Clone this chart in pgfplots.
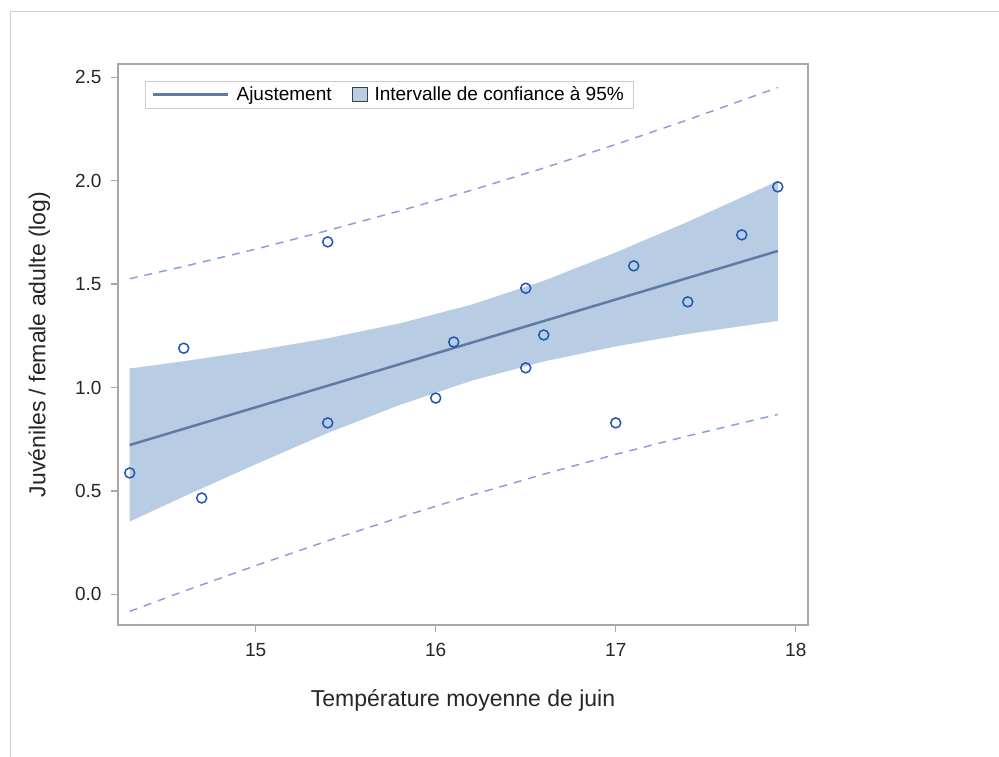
\documentclass[border=0pt]{standalone}
\usepackage{pgfplots}
\pgfplotsset{compat=1.18}
\usepackage{fontspec}
\setmainfont{Liberation Sans}
\definecolor{bandc}{HTML}{B8CCE4}
\definecolor{fitc}{HTML}{5E7AA5}
\definecolor{predc}{HTML}{8C9FDB}
\definecolor{ptc}{HTML}{2255B0}
\definecolor{axc}{HTML}{A8A8A8}
\begin{document}
\begin{tikzpicture}[x=1bp,y=1bp]
\path[use as bounding box] (0,0) rectangle (999,757);
\draw[color=black!18, line width=1bp] (10,0) -- (10,745) -- (999,745);
\begin{axis}[
  at={(118bp,132bp)}, anchor=south west,
  width=690bp, height=561bp, scale only axis,
  xmin=14.235, xmax=18.068, ymin=-0.148, ymax=2.564,
  xtick={15,16,17,18}, ytick={0,0.5,1,1.5,2,2.5},
  yticklabel style={/pgf/number format/fixed, /pgf/number format/fixed zerofill, /pgf/number format/precision=1, xshift=-6bp},
  /pgf/number format/assume math mode=true,
  tick label style={font=\fontsize{19bp}{21bp}\selectfont, color=black!85},
  xticklabel style={yshift=-8bp},
  axis line style={color=axc, line width=1.2bp},
  tick style={color=axc, line width=1.2bp},
  major tick length=7bp,
  tick align=outside, xtick pos=bottom, ytick pos=left,
  xlabel={Température moyenne de juin},
  ylabel={Juvéniles / female adulte (log)},
  label style={font=\fontsize{23bp}{25bp}\selectfont, color=black!85},
  xlabel style={yshift=-26bp},
  ylabel style={yshift=18bp},
  legend columns=2,
  legend style={at={(0.039,0.97)}, anchor=north west, draw=black!20,
    font=\fontsize{19bp}{21bp}\selectfont, inner xsep=7bp, inner ysep=4bp,
    /tikz/every odd column/.append style={column sep=5bp},
    /tikz/every even column/.append style={column sep=18bp}},
  legend cell align=left,
]
\addlegendimage{legend image code/.code={\draw[line width=2.5bp, color=fitc] (0bp,0bp) -- (75bp,0bp);}}
\addlegendentry{Ajustement}
\addlegendimage{legend image code/.code={\draw[fill=bandc, draw=black!75, line width=0.9bp] (0bp,-7bp) rectangle (15bp,7bp);}}
\addlegendentry{Intervalle de confiance à 95\%}

% confidence band (upper then lower reversed)
\addplot[fill=bandc, draw=none, forget plot] coordinates {
 (14.3,1.092) (14.6,1.127) (15.0,1.179) (15.4,1.238) (15.8,1.310) (16.2,1.401)
 (16.6,1.516) (17.0,1.653) (17.4,1.801) (17.9,1.998)
 (17.9,1.322) (17.4,1.259) (17.0,1.199) (16.6,1.126) (16.2,1.033) (15.8,0.916)
 (15.4,0.780) (15.0,0.629) (14.6,0.473) (14.3,0.352)
} -- cycle;
% fit
\addplot[color=fitc, line width=2.5bp, forget plot] coordinates {(14.3,0.722) (17.9,1.660)};
% prediction limits
\addplot[color=predc, line width=1.5bp, dash pattern=on 8bp off 7bp, forget plot] coordinates {
 (14.3,1.526) (14.6,1.585) (15.0,1.669) (15.4,1.759) (15.8,1.854) (16.2,1.954)
 (16.6,2.061) (17.0,2.175) (17.4,2.294) (17.9,2.450)};
\addplot[color=predc, line width=1.5bp, dash pattern=on 8bp off 7bp, forget plot] coordinates {
 (14.3,-0.082) (14.6,0.015) (15.0,0.139) (15.4,0.259) (15.8,0.372) (16.2,0.480)
 (16.6,0.581) (17.0,0.677) (17.4,0.766) (17.9,0.870)};
% observations
\addplot[only marks, mark=o, mark size=5bp, color=ptc, line width=1.5bp, forget plot] coordinates {
 (14.3,0.587) (14.6,1.190) (14.7,0.466) (15.4,1.704) (15.4,0.829) (16.0,0.949)
 (16.1,1.220) (16.5,1.480) (16.5,1.095) (16.6,1.254) (17.1,1.588) (17.0,0.829)
 (17.4,1.414) (17.7,1.738) (17.9,1.970)};
\end{axis}
\end{tikzpicture}
\end{document}
